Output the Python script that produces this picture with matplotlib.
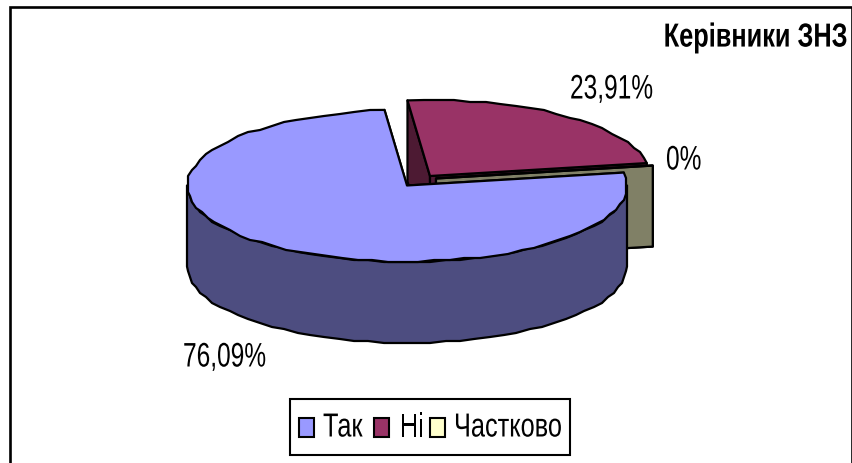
#!/usr/bin/env python3
"""Pie chart with fake 3D depth: Керівники ЗНЗ."""

import numpy as np
import matplotlib
matplotlib.use('Agg')
import matplotlib.pyplot as plt
from matplotlib.patches import Polygon, Rectangle
from matplotlib.patheffects import AbstractPathEffect
from matplotlib.transforms import Affine2D

categories = ['Так', 'Ні', 'Частково']
shares = [76.09, 23.91, 0.0]
value_labels = ['76,09%', '23,91%', '0%']
title = 'Керівники ЗНЗ'

top_colors = ['#9999ff', '#993366', '#ffffcc']
side_colors = ['#4d4d80', '#4d1a33', '#808066']

# pie geometry in pixels
CX, CY = 407, 185.5
RX, RY = 220, 76
DEPTH = 81
START = 9.8  # degrees, slices run clockwise from here
OFFSETS = [(0, 0), (23, -9.5), (29, -7)]
LW = 1.6

plt.rcParams['font.family'] = ['Liberation Sans', 'DejaVu Sans']

fig = plt.figure(figsize=(8.53, 4.63), dpi=100)
ax = fig.add_axes([0, 0, 1, 1])
ax.set_xlim(0, 853)
ax.set_ylim(463, 0)
ax.axis('off')


class Squeeze(AbstractPathEffect):
    # no narrow font installed, so squash the glyphs sideways around the anchor
    def __init__(self, x0, sx):
        super().__init__()
        self.x0, self.sx = x0, sx

    def draw_path(self, renderer, gc, tpath, affine, rgbFace=None):
        squash = Affine2D().translate(-self.x0, 0).scale(self.sx, 1).translate(self.x0, 0)
        renderer.draw_path(gc, tpath, affine + squash, rgbFace)


def narrow_text(x, y, txt, size, sx, ha='left', **kw):
    ax.text(x, y, txt, fontsize=size, ha=ha, va='center', color='black', zorder=30,
            path_effects=[Squeeze(x, sx)], **kw)


def rim(a0, a1, cx, cy):
    # slightly rough outline on a 2 px grid, the curve in the original is rough too
    n = max(2, int(abs(a0 - a1) / 4) + 1)
    t = np.radians(np.linspace(a0, a1, n))
    pts = np.column_stack([cx + RX * np.cos(t), cy - RY * np.sin(t)])
    pts[1:-1] = np.round(pts[1:-1] / 2) * 2
    return pts


def poly(pts, color, z):
    ax.add_patch(Polygon(pts, closed=True, facecolor=color, edgecolor='black',
                         linewidth=LW, joinstyle='round', zorder=z))


# outer frame, bottom edge falls off the picture
ax.add_patch(Rectangle((10.5, 7), 841.5, 470, facecolor='white', edgecolor='black',
                       linewidth=1.9, zorder=0))

# slice angles from the values
fractions = np.array(shares) / sum(shares)
ends = START - np.cumsum(fractions) * 360
starts = np.concatenate([[START], ends[:-1]]) % 360
ends = starts - fractions * 360

# draw back to front: second slice, third slice, then the big one
for z, i in enumerate([1, 2, 0]):
    dx, dy = OFFSETS[i]
    cx, cy = CX + dx, CY + dy
    apex = np.array([[cx, cy]])
    edge = rim(starts[i], ends[i], cx, cy)
    down = np.array([0, DEPTH])
    base = 2 + z * 4

    # cut faces
    for p in (edge[0], edge[-1]):
        poly([apex[0], p, p + down, apex[0] + down], side_colors[i], base)

    # outer wall, only the part facing the viewer
    lo, hi = max(ends[i], -180), min(starts[i], 0)
    if hi > lo:
        front = rim(hi, lo, cx, cy)
        poly(np.vstack([front, (front + down)[::-1]]), side_colors[i], base + 1)

    # top
    poly(np.vstack([apex, edge]), top_colors[i], base + 2)

for txt, x, y in zip(value_labels, [183, 570, 666], [358, 90, 161]):
    narrow_text(x, y, txt, 24.5, 0.72)

narrow_text(848, 38, title, 24, 0.76, ha='right', fontweight='bold')

# legend
ax.add_patch(Rectangle((290, 399), 280, 56, facecolor='white', edgecolor='black',
                       linewidth=1.5, zorder=20))
for color, name, bx, tx in zip(top_colors, categories, [299, 374, 430], [323, 400, 454]):
    ax.add_patch(Rectangle((bx, 418), 15, 19, facecolor=color, edgecolor='black',
                           linewidth=1.5, zorder=21))
    narrow_text(tx, 428, name, 24, 0.76)

fig.savefig('out.png', dpi=100)
